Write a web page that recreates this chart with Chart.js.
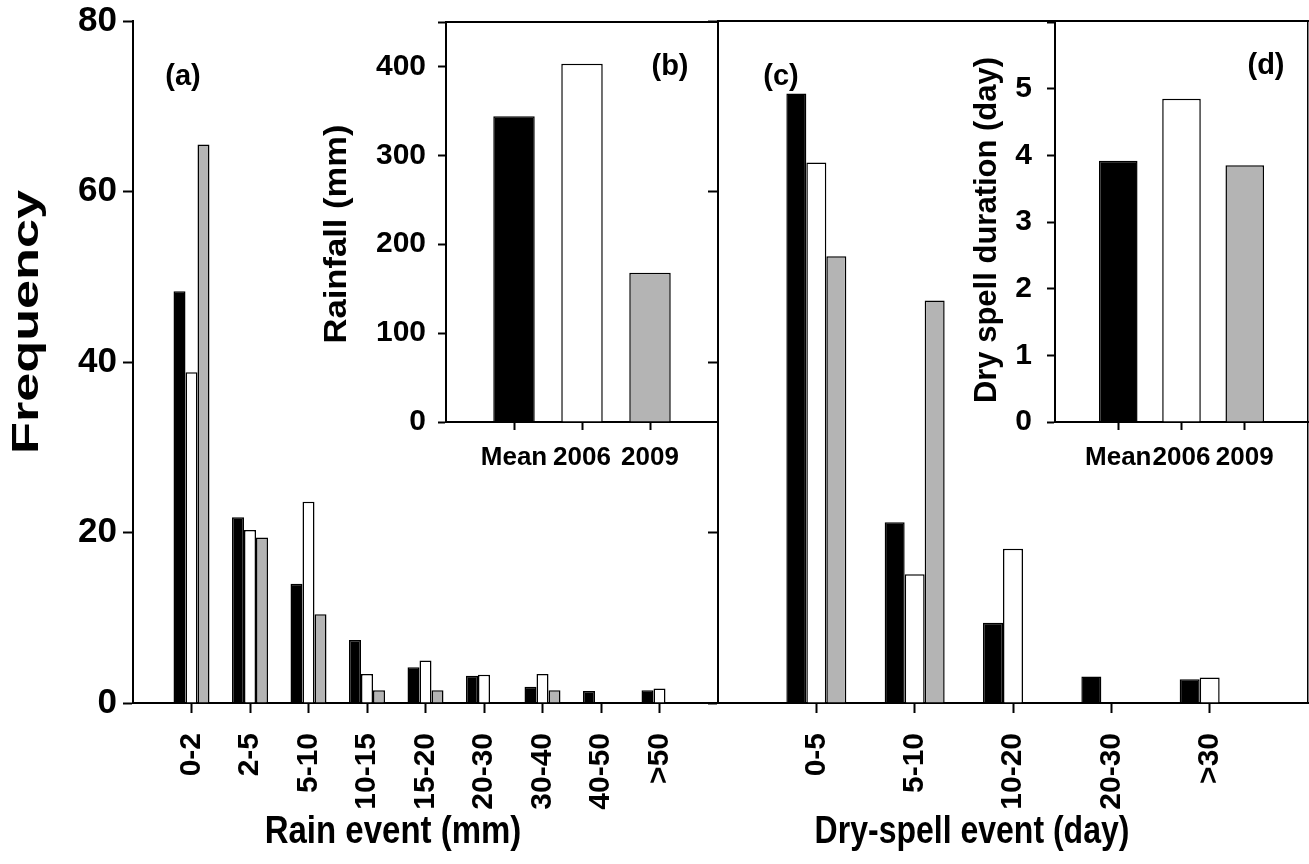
<!DOCTYPE html>
<html>
<head>
<meta charset="utf-8">
<script src="https://cdn.jsdelivr.net/npm/chart.js@4"></script>
<style>
  body { margin: 0; background: #fff; }
  #wrap { position: relative; width: 1309px; height: 864px; }
  #wrap canvas { position: absolute; left: 0; top: 0; }
</style>
</head>
<body>
<div id="wrap">
  <canvas id="rain" width="1309" height="864"></canvas>
  <canvas id="dry" width="1309" height="864"></canvas>
  <canvas id="rainTotal" width="1309" height="864"></canvas>
  <canvas id="dryMean" width="1309" height="864"></canvas>
</div>
<script>
// (a) rain events
const rainCats = ['0-2', '2-5', '5-10', '10-15', '15-20', '20-30', '30-40', '40-50', '>50'];
const rainMean = [48.3, 21.8, 14.0, 7.4, 4.2, 3.2, 1.9, 1.4, 1.5];
const rain2006 = [38.8, 20.3, 23.6, 3.4, 5.0, 3.3, 3.4, 0, 1.7];
const rain2009 = [65.5, 19.4, 10.4, 1.5, 1.5, 0, 1.5, 0, 0];

// (c) dry-spell events
const dryCats = ['0-5', '5-10', '10-20', '20-30', '>30'];
const dryMean = [71.5, 21.2, 9.4, 3.1, 2.8];
const dry2006 = [63.4, 15.1, 18.1, 0, 3.0];
const dry2009 = [52.4, 47.2, 0, 0, 0];

// insets (b) and (d)
const yearCats = ['Mean', '2006', '2009'];
const rainfallTotals = [344, 403, 168];
const drySpellDuration = [3.92, 4.85, 3.85];

const FONT = '"Liberation Sans", Arial, sans-serif';
Chart.defaults.font.family = FONT;
Chart.defaults.font.weight = 'bold';
Chart.defaults.color = '#000';

const BLACK = '#000000', WHITE = '#ffffff', GREY = '#b4b4b4';

// empty slot on each side so the axis runs one step past the first and last bar
const pad = arr => [null, ...arr, null];
const padLabels = arr => ['', ...arr, ''];

// free text (panel tags and the axis titles, some stretched as in the original)
const captions = {
  id: 'captions',
  afterDraw(chart, args, opts) {
    const ctx = chart.ctx;
    (opts.items || []).forEach(it => {
      ctx.save();
      ctx.translate(it.x, it.y);
      ctx.rotate((it.rotate || 0) * Math.PI / 180);
      ctx.scale(it.sx || 1, it.sy || 1);
      ctx.font = 'bold ' + it.size + 'px ' + FONT;
      ctx.fillStyle = '#000';
      ctx.textAlign = 'center';
      ctx.textBaseline = 'middle';
      ctx.fillText(it.text, 0, 0);
      ctx.restore();
    });
  }
};

function categoryAxis(opts) {
  return {
    type: 'category',
    offset: false,
    grid: {
      offset: false,
      drawOnChartArea: false,
      tickLength: opts.tickLen,
      tickWidth: 2,
      tickColor: c => (c.index === 0 || c.index === c.chart.data.labels.length - 1) ? 'rgba(0,0,0,0)' : '#000'
    },
    border: { color: '#000', width: 2 },
    ticks: {
      autoSkip: false,
      maxRotation: opts.rotation,
      minRotation: opts.rotation,
      font: { size: opts.font, weight: 'bold' },
      padding: opts.padding,
      color: '#000'
    },
    afterFit: s => { s.height = opts.height; s.paddingLeft = 0; s.paddingRight = 0; }
  };
}

function linearAxis(opts) {
  return {
    type: 'linear',
    min: 0,
    max: opts.max,
    grid: { drawOnChartArea: false, tickLength: opts.tickLen, tickWidth: 2, tickColor: '#000' },
    border: { color: '#000', width: 2 },
    ticks: {
      display: opts.showLabels,
      stepSize: opts.step,
      padding: opts.padding,
      font: { size: opts.font, weight: 'bold' },
      color: '#000',
      callback: v => (v === opts.max && opts.hideMax) ? '' : v
    },
    afterFit: s => { s.width = opts.width; s.paddingTop = 0; s.paddingBottom = 0; }
  };
}

const edge = (position, type, width) => ({
  type: type,
  position: position,
  display: true,
  grid: { display: false, drawTicks: false },
  ticks: { display: false },
  border: { color: '#000', width: width },
  afterFit: s => {
    if (position === 'top') s.height = 0; else s.width = 1;
    s.paddingLeft = 0; s.paddingRight = 0; s.paddingTop = 0; s.paddingBottom = 0;
  }
});

const common = {
  responsive: false,
  animation: false
};
const quiet = { legend: { display: false }, tooltip: { enabled: false } };

function groupedSets(a, b, c, catPct) {
  return [a, b, c].map((vals, i) => ({
    data: pad(vals),
    backgroundColor: [BLACK, WHITE, GREY][i],
    borderColor: '#000',
    borderWidth: 1.5,
    categoryPercentage: catPct,
    barPercentage: 1.0
  }));
}

// (a)
new Chart(document.getElementById('rain'), {
  type: 'bar',
  data: { labels: padLabels(rainCats), datasets: groupedSets(rainMean, rain2006, rain2009, 0.615) },
  plugins: [captions],
  options: {
    ...common,
    layout: { padding: { left: 0, top: 21, right: 591, bottom: 0 } },
    plugins: {
      ...quiet,
      captions: { items: [
        { text: '(a)', x: 183, y: 77, size: 29 },
        { text: 'Frequency', x: 28, y: 322, size: 36, rotate: -90, sx: 1.45 },
        { text: 'Rain event (mm)', x: 393, y: 832, size: 33, sy: 1.18 }
      ] }
    },
    scales: {
      x: categoryAxis({ tickLen: 10, padding: 20, font: 30, height: 161, rotation: 90 }),
      y: linearAxis({ max: 80, step: 20, tickLen: 10, padding: 6, font: 35, width: 133, showLabels: true })
    }
  }
});

// (c)
new Chart(document.getElementById('dry'), {
  type: 'bar',
  data: { labels: padLabels(dryCats), datasets: groupedSets(dryMean, dry2006, dry2009, 0.61) },
  plugins: [captions],
  options: {
    ...common,
    layout: { padding: { left: 0, top: 21, right: 0, bottom: 0 } },
    plugins: {
      ...quiet,
      captions: { items: [
        { text: '(c)', x: 781, y: 77, size: 29 },
        { text: 'Dry-spell event (day)', x: 972, y: 832, size: 32, sy: 1.2 }
      ] }
    },
    scales: {
      x: categoryAxis({ tickLen: 10, padding: 20, font: 30, height: 161, rotation: 90 }),
      y: linearAxis({ max: 80, step: 20, tickLen: 10, padding: 0, font: 31, width: 718, showLabels: false }),
      top: edge('top', 'category', 2),
      right: edge('right', 'linear', 1.5)
    }
  }
});

// (b)
new Chart(document.getElementById('rainTotal'), {
  type: 'bar',
  data: {
    labels: padLabels(yearCats),
    datasets: [{
      data: pad(rainfallTotals),
      backgroundColor: [null, BLACK, WHITE, GREY, null],
      borderColor: '#000', borderWidth: 1.5, categoryPercentage: 0.61, barPercentage: 1.0
    }]
  },
  plugins: [captions],
  options: {
    ...common,
    layout: { padding: { left: 300, top: 22, right: 591, bottom: 364 } },
    plugins: {
      ...quiet,
      captions: { items: [
        { text: '(b)', x: 670, y: 67, size: 29 },
        { text: 'Rainfall (mm)', x: 337, y: 234, size: 32, rotate: -90, sx: 1.08 }
      ] }
    },
    scales: {
      x: categoryAxis({ tickLen: 8, padding: 12, font: 26, height: 78, rotation: 0 }),
      y: linearAxis({ max: 450, step: 100, tickLen: 8, padding: 12, font: 30, width: 146, showLabels: true, hideMax: true }),
      top: edge('top', 'category', 2)
    }
  }
});

// (d)
new Chart(document.getElementById('dryMean'), {
  type: 'bar',
  data: {
    labels: padLabels(yearCats),
    datasets: [{
      data: pad(drySpellDuration),
      backgroundColor: [null, BLACK, WHITE, GREY, null],
      borderColor: '#000', borderWidth: 1.5, categoryPercentage: 0.61, barPercentage: 1.0
    }]
  },
  plugins: [captions],
  options: {
    ...common,
    layout: { padding: { left: 950, top: 22, right: 1, bottom: 364 } },
    plugins: {
      ...quiet,
      captions: { items: [
        { text: '(d)', x: 1266, y: 66, size: 29 },
        { text: 'Dry spell duration (day)', x: 987, y: 230, size: 31, rotate: -90 }
      ] }
    },
    scales: {
      x: categoryAxis({ tickLen: 8, padding: 12, font: 26, height: 78, rotation: 0 }),
      y: linearAxis({ max: 6, step: 1, tickLen: 8, padding: 15, font: 30, width: 105, showLabels: true, hideMax: true })
    }
  }
});
</script>
</body>
</html>
